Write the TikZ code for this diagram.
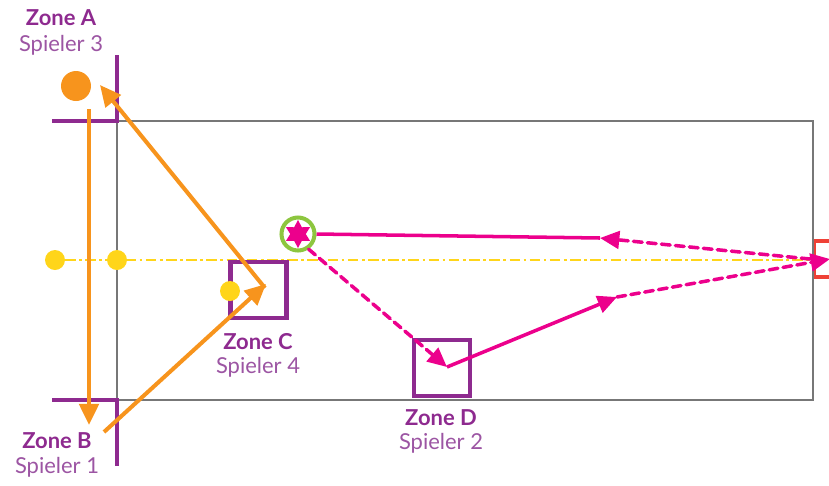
\documentclass[tikz,border=0pt]{standalone}
\usepackage{fontspec}
\setmainfont{Lato}
\usepackage{tikz}
\usetikzlibrary{shapes.geometric, arrows.meta}

\definecolor{zonepurple}{HTML}{8E2A8F}
\definecolor{playerpurple}{HTML}{9C55A3}
\definecolor{runorange}{HTML}{F7941D}
\definecolor{ballpink}{HTML}{EC008C}
\definecolor{lineyellow}{HTML}{FFD51A}
\definecolor{ringgreen}{HTML}{8DC63F}
\definecolor{fieldgray}{HTML}{777777}
\definecolor{goalred}{HTML}{EF4136}

\begin{document}
\begin{tikzpicture}[
                x=0.02cm, y=-0.02cm,
                zoneline/.style={draw=zonepurple, line width=2.8pt}, % corner lines of zones A and B
                zonebox/.style={draw=zonepurple, line width=2.8pt, minimum size=1.12cm, inner sep=0pt}, % squares of zones C and D
                zonetitle/.style={text=zonepurple, font=\bfseries\fontsize{12.5}{14}\selectfont},
                zoneplayer/.style={text=playerpurple, font=\fontsize{12.5}{14}\selectfont},
                run/.style={draw=runorange, line width=2.3pt, -{Triangle[length=12pt,width=11pt]}}, % player runs
                pass/.style={draw=ballpink, line width=2pt, -{Triangle[length=11pt,width=10pt]}}, % ball on the ground
                flight/.style={pass, dash pattern=on 5pt off 3pt, line cap=round}, % ball in the air
                dot/.style={circle, fill=lineyellow, minimum size=0.4cm, inner sep=0pt}
                ]
                \useasboundingbox (0,0) rectangle (829,485);

                % field
                \draw[goalred, line width=2.8pt] (814,241) rectangle (836,277);
                \draw[fieldgray, line width=1.1pt] (117,121) rectangle (813,400);
                \draw[lineyellow, line width=0.9pt, dash pattern=on 6pt off 2pt on 1.5pt off 2pt] (65,260) -- (813,260);

                % zones A and B
                \draw[zoneline] (117,55) -- (117,121) -- (52,121);
                \draw[zoneline] (52,400) -- (117,400) -- (117,466);
                \node[zonebox] (zoneC) at (258.5,290) {};
                \node[zonebox] (zoneD) at (442,368) {};

                % yellow markers
                \node[dot] (m1) at (55,260) {};
                \node[dot] (m2) at (117,260) {};
                \node[dot] (m3) at (230,291) {};

                % labels
                \node[zonetitle] (tA) at (61,18) {Zone A};
                \node[zoneplayer] (pA) at (61,45) {Spieler 3};
                \node[zonetitle] (tB) at (57,441) {Zone B};
                \node[zoneplayer] (pB) at (57,467) {Spieler 1};
                \node[zonetitle] (tC) at (258,342) {Zone C};
                \node[zoneplayer] (pC) at (258,367) {Spieler 4};
                \node[zonetitle] (tD) at (441,418) {Zone D};
                \node[zoneplayer] (pD) at (441,443) {Spieler 2};

                % orange runs
                \node[circle, fill=runorange, minimum size=0.6cm, inner sep=0pt] (sp3) at (76,86) {};
                \coordinate (a1) at (89,109);
                \coordinate (a2) at (89,425);
                \coordinate (b1) at (104,432);
                \coordinate (c1) at (266,284);
                \coordinate (c2) at (265,288);
                \coordinate (a3) at (100,85);
                \draw[run] (a1) -- (a2);
                \draw[run] (b1) -- (c1);
                \draw[run] (c2) -- (a3);

                % ball
                \node[circle, draw=ringgreen, line width=2.3pt, minimum size=0.66cm, inner sep=0pt] (ring) at (298,234) {};
                \node[star, star points=6, star point ratio=1.8, fill=ballpink, minimum size=0.56cm, inner sep=0pt] (ball) at (298,234) {};
                \coordinate (goal) at (830,259);
                \coordinate (g1) at (810,259);
                \coordinate (k1) at (600,238);
                \coordinate (k2) at (447,367);
                \coordinate (k3) at (617,297);
                \draw[flight] (g1) -- (k1);
                \draw[ballpink, line width=2pt] (k1) -- (ring.east);
                \draw[flight] (ring.-55) -- (k2);
                \draw[pass] (k2) -- (k3);
                \draw[flight] (k3) -- (goal);
            \end{tikzpicture}
\end{document}
